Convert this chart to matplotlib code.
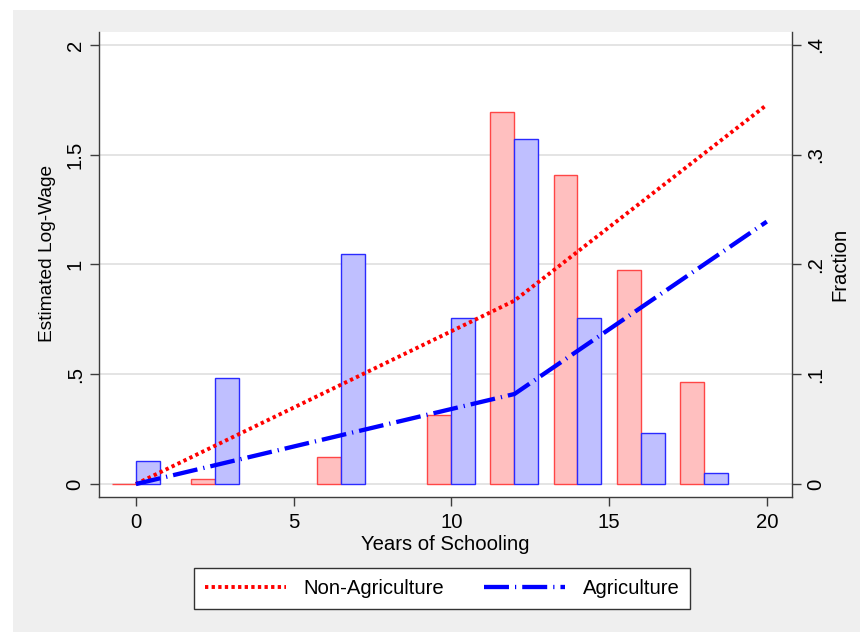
import numpy as np
import matplotlib
matplotlib.use("Agg")
import matplotlib.pyplot as plt
from matplotlib.patches import Rectangle

plt.rcParams['font.family'] = ['Liberation Sans', 'DejaVu Sans']

# ---- data -------------------------------------------------------------
# schooling groups (bar centres) and share of workers in each group
school_groups = [0, 2.5, 6.5, 10, 12, 14, 16, 18]
frac_nonag = [0.0, 0.0044, 0.0242, 0.0632, 0.3385, 0.2817, 0.195, 0.093]
frac_ag = [0.0206, 0.0964, 0.2098, 0.1516, 0.314, 0.1516, 0.0468, 0.0102]

# estimated log-wage profiles by years of schooling
years = [0, 12, 20]
logwage_nonag = [0.0, 0.835, 1.727]
logwage_ag = [0.0, 0.41, 1.195]

x_ticks = [0, 5, 10, 15, 20]
y_ticks = [0, 0.5, 1, 1.5, 2]
y_ticklabels = ['0', '.5', '1', '1.5', '2']
frac_ticks = [0, 0.1, 0.2, 0.3, 0.4]
frac_ticklabels = ['0', '.1', '.2', '.3', '.4']

# ---- styling ------------------------------------------------------------
W, H = 860, 632
FS = 14.6
AXIS_COLOR = '#3c3c3c'
GRID_COLOR = '#e4e4e4'
PINK_FILL, PINK_EDGE = '#ffbfbf', '#ff4646'
BLUE_FILL, BLUE_EDGE = '#bfbfff', '#2a2aff'
BAR_W = 0.76

fig = plt.figure(figsize=(W / 100, H / 100), dpi=100, facecolor='white')
# light grey graph region
fig.patches.append(Rectangle((13 / W, 0), 1 - 13 / W, (H - 10) / H,
                             transform=fig.transFigure, facecolor='#efefef',
                             edgecolor='none', zorder=-10))

left, right, top, bottom = 99 / W, 792.3 / W, 1 - 31.7 / H, 1 - 497 / H
ax2 = fig.add_axes([left, bottom, right - left, top - bottom])   # fraction (bars)
ax = fig.add_axes([left, bottom, right - left, top - bottom])    # log-wage (lines)
ax2.set_zorder(1)
ax.set_zorder(2)
ax.patch.set_visible(False)
ax2.set_facecolor('white')

ylim = (-0.059, 2.06)
xlim = (-1.17, 20.81)

# bars: share of workers by schooling group
g = np.asarray(school_groups, dtype=float)
ax2.bar(g - BAR_W / 2, frac_nonag, width=BAR_W, color=PINK_FILL,
        edgecolor=PINK_EDGE, linewidth=1.0, zorder=2)
ax2.bar(g + BAR_W / 2, frac_ag, width=BAR_W, color=BLUE_FILL,
        edgecolor=BLUE_EDGE, linewidth=1.0, zorder=3)
ax2.set_ylim(ylim[0] / 5, ylim[1] / 5)
ax2.set_xlim(*xlim)
ax2.set_yticks(frac_ticks)
ax2.set_yticklabels(frac_ticklabels, rotation=90, va='center')
ax2.yaxis.tick_right()
ax2.yaxis.set_label_position('right')
ax2.grid(axis='y', color=GRID_COLOR, linewidth=1.4)
ax2.set_axisbelow(True)
ax2.set_xticks([])
for s in ['top', 'left', 'bottom']:
    ax2.spines[s].set_visible(False)
ax2.spines['right'].set_color(AXIS_COLOR)
ax2.spines['right'].set_linewidth(1.0)
ax2.tick_params(axis='y', direction='out', length=6.3, width=1.0,
                color=AXIS_COLOR, labelsize=FS, pad=3.5)
ax2.set_ylabel('Fraction', fontsize=FS, rotation=90, va='center')
ax2.yaxis.set_label_coords((840 - 99) / 693.3, 0.5)

# lines: estimated log-wage profiles
ax.plot(years, logwage_nonag, color='red', linewidth=2.8,
        dashes=(0.85, 0.85), dash_capstyle='butt', zorder=4,
        label='Non-Agriculture')
ax.plot(years, logwage_ag, color='blue', linewidth=3.1,
        dashes=(5.8, 1.4, 0.28, 1.4), dash_capstyle='butt', zorder=5,
        label='Agriculture')
ax.set_xlim(*xlim)
ax.set_ylim(*ylim)
ax.set_xticks(x_ticks)
ax.set_yticks(y_ticks)
ax.set_yticklabels(y_ticklabels, rotation=90, va='center')
ax.spines['top'].set_visible(False)
ax.spines['right'].set_visible(False)
for s in ['left', 'bottom']:
    ax.spines[s].set_color(AXIS_COLOR)
    ax.spines[s].set_linewidth(1.0)
ax.tick_params(direction='out', length=6.3, width=1.0, color=AXIS_COLOR,
               labelsize=FS)
ax.tick_params(axis='y', pad=4)
ax.tick_params(axis='x', pad=5)
ax.set_ylabel('Estimated Log-Wage', fontsize=13.8, va='center')
ax.yaxis.set_label_coords((48 - 99) / 693.3, (497 - 253) / 465.3)
ax.set_xlabel('Years of Schooling', fontsize=FS, va='center')
ax.xaxis.set_label_coords(0.5, (497 - 545) / 465.3)

leg = ax.legend(loc='center', bbox_to_anchor=(442 / W, 1 - 588.7 / H),
                bbox_transform=fig.transFigure, ncol=2, fontsize=FS,
                frameon=True, fancybox=False, framealpha=1,
                handlelength=4.0, handletextpad=0.85, columnspacing=2.0,
                borderpad=0.55)
leg.get_frame().set_edgecolor('#333333')
leg.get_frame().set_linewidth(1.0)

fig.savefig('out.png', dpi=100, facecolor=fig.get_facecolor())
